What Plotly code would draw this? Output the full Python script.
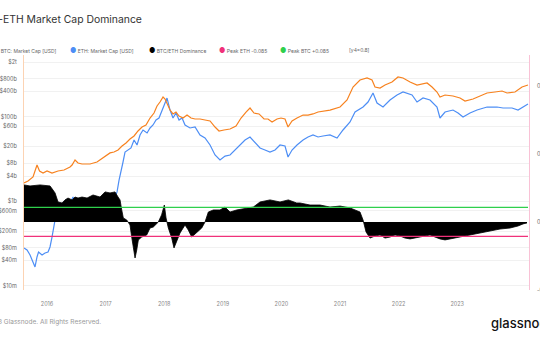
import plotly.graph_objects as go

# ---------------- data ----------------
# time expressed as decimal years
btc_year = [2015.607, 2015.676, 2015.761, 2015.829, 2015.872, 2015.932, 2016.000, 2016.085, 2016.188,
            2016.290, 2016.392, 2016.427, 2016.478, 2016.529, 2016.597, 2016.734, 2016.853, 2016.904,
            2016.956, 2017.024, 2017.075, 2017.143, 2017.212, 2017.280, 2017.348, 2017.416, 2017.485,
            2017.553, 2017.621, 2017.689, 2017.758, 2017.826, 2017.877, 2017.928, 2017.980, 2018.014,
            2018.048, 2018.099, 2018.150, 2018.201, 2018.253, 2018.321, 2018.389, 2018.457, 2018.526,
            2018.611, 2018.696, 2018.782, 2018.867, 2018.935, 2019.020, 2019.123, 2019.225, 2019.311,
            2019.396, 2019.464, 2019.532, 2019.618, 2019.703, 2019.771, 2019.840, 2019.925, 2019.993,
            2020.061, 2020.113, 2020.181, 2020.266, 2020.369, 2020.454, 2020.539, 2020.625, 2020.710,
            2020.829, 2021.000, 2021.120, 2021.222, 2021.341, 2021.461, 2021.546, 2021.597, 2021.683,
            2021.768, 2021.887, 2021.990, 2022.075, 2022.195, 2022.314, 2022.485, 2022.570, 2022.655,
            2022.706, 2022.792, 2022.928, 2023.048, 2023.133, 2023.270, 2023.355, 2023.509, 2023.645,
            2023.765, 2023.850, 2023.986, 2024.106, 2024.208]
btc_cap_b = [2.74, 3.05, 3.80, 7.30, 5.26, 4.72, 5.26, 4.72, 5.26,
             5.56, 6.55, 7.30, 9.59, 8.14, 7.71, 7.71, 8.60, 9.59,
             10.7, 12.6, 14.1, 14.8, 16.5, 20.6, 24.2, 30.1, 35.5,
             46.6, 57.9, 64.6, 94.6, 124, 182, 226, 297, 266,
             203, 146, 118, 131, 105, 94.6, 111, 94.6, 89.6,
             89.6, 84.9, 80.4, 57.9, 46.6, 49.2, 52.0, 61.2, 94.6,
             131, 163, 124, 118, 89.6, 89.6, 76.1, 89.6, 94.6,
             89.6, 57.9, 80.4, 94.6, 111, 111, 118, 131, 139,
             146, 172, 252, 513, 750, 837, 750, 513, 485,
             571, 673, 883, 837, 673, 571, 637, 513, 390,
             297, 331, 314, 281, 239, 266, 297, 370, 390,
             412, 370, 390, 513, 571]

eth_year = [2015.607, 2015.659, 2015.710, 2015.761, 2015.795, 2015.829, 2015.855, 2015.915, 2015.966,
            2016.017, 2016.051, 2016.085, 2016.111, 2016.137, 2016.171, 2016.205, 2016.256, 2016.324,
            2016.392, 2016.444, 2016.495, 2016.563, 2016.648, 2016.734, 2016.819, 2016.904, 2016.990,
            2017.075, 2017.143, 2017.195, 2017.229, 2017.263, 2017.297, 2017.331, 2017.382, 2017.433,
            2017.485, 2017.536, 2017.587, 2017.638, 2017.707, 2017.758, 2017.809, 2017.860, 2017.911,
            2017.962, 2018.014, 2018.048, 2018.099, 2018.150, 2018.201, 2018.253, 2018.304, 2018.355,
            2018.440, 2018.526, 2018.611, 2018.696, 2018.782, 2018.867, 2018.952, 2019.038, 2019.123,
            2019.208, 2019.294, 2019.379, 2019.464, 2019.550, 2019.635, 2019.720, 2019.805, 2019.891,
            2019.976, 2020.061, 2020.113, 2020.181, 2020.266, 2020.369, 2020.454, 2020.539, 2020.625,
            2020.710, 2020.829, 2020.949, 2021.051, 2021.171, 2021.256, 2021.393, 2021.478, 2021.563,
            2021.632, 2021.734, 2021.853, 2021.973, 2022.075, 2022.229, 2022.314, 2022.417, 2022.536,
            2022.655, 2022.706, 2022.792, 2022.928, 2023.014, 2023.099, 2023.218, 2023.338, 2023.509,
            2023.679, 2023.782, 2023.935, 2024.038, 2024.123, 2024.208]
eth_cap_b = [0.0793, 0.0711, 0.0542, 0.0370, 0.0282, 0.0486, 0.0638, 0.0542, 0.0604,
             0.0638, 0.0838, 0.144, 0.249, 0.365, 0.628, 0.92, 0.871, 1.08,
             0.92, 1.28, 0.740, 0.701, 0.782, 0.701, 0.97, 0.740, 0.701,
             0.782, 1.08, 1.68, 3.22, 4.99, 8.60, 14.8, 16.5, 18.5,
             28.5, 21.7, 37.5, 49.2, 41.8, 54.9, 64.6, 84.9, 94.6,
             146, 214, 281, 146, 94.6, 124, 84.9, 94.6, 64.6,
             54.9, 57.9, 37.5, 31.8, 21.7, 12.6, 9.59, 11.9, 12.6,
             16.5, 21.7, 28.5, 33.6, 24.2, 18.5, 16.5, 14.8, 16.5,
             21.7, 20.6, 11.3, 16.5, 21.7, 28.5, 33.6, 37.5, 33.6,
             35.5, 37.5, 31.8, 49.2, 76.1, 131, 172, 226, 370,
             214, 172, 252, 331, 390, 331, 226, 281, 252,
             172, 94.6, 131, 146, 124, 100, 124, 146, 172,
             172, 163, 163, 146, 172, 203]

dom_year = [2015.607, 2015.710, 2015.881, 2016.051, 2016.102, 2016.137, 2016.188, 2016.256, 2016.307,
            2016.358, 2016.427, 2016.478, 2016.529, 2016.597, 2016.683, 2016.785, 2016.904, 2016.990,
            2017.075, 2017.160, 2017.212, 2017.246, 2017.275, 2017.302, 2017.360, 2017.387, 2017.416,
            2017.445, 2017.473, 2017.502, 2017.531, 2017.558, 2017.616, 2017.701, 2017.758, 2017.814,
            2017.899, 2017.955, 2018.002, 2018.031, 2018.070, 2018.128, 2018.167, 2018.213, 2018.270,
            2018.355, 2018.411, 2018.469, 2018.555, 2018.640, 2018.696, 2018.753, 2018.838, 2018.952,
            2019.038, 2019.123, 2019.237, 2019.350, 2019.520, 2019.635, 2019.805, 2019.976, 2020.118,
            2020.261, 2020.317, 2020.488, 2020.659, 2020.829, 2021.000, 2021.171, 2021.273, 2021.341,
            2021.393, 2021.444, 2021.512, 2021.597, 2021.683, 2021.768, 2021.853, 2021.939, 2022.024,
            2022.109, 2022.195, 2022.280, 2022.365, 2022.451, 2022.536, 2022.621, 2022.706, 2022.792,
            2022.877, 2022.962, 2023.048, 2023.133, 2023.218, 2023.304, 2023.389, 2023.560, 2023.730,
            2023.901, 2024.038, 2024.123, 2024.191]
dom_val = [0.217, 0.211, 0.217, 0.211, 0.187, 0.170, 0.117, 0.111, 0.129,
           0.140, 0.129, 0.146, 0.140, 0.146, 0.140, 0.158, 0.146, 0.176,
           0.170, 0.176, 0.146, 0.129, 0.070, 0.023, 0.011, -0.006, -0.018,
           -0.089, -0.147, -0.212, -0.165, -0.106, -0.089, -0.077, -0.036, -0.030,
           -0.001, 0.041, 0.099, 0.023, -0.036, -0.095, -0.153, -0.118, -0.065,
           -0.018, -0.048, -0.089, -0.065, -0.036, -0.001, 0.058, 0.070, 0.070,
           0.087, 0.058, 0.070, 0.076, 0.087, 0.117, 0.129, 0.117, 0.129,
           0.111, 0.111, 0.099, 0.099, 0.087, 0.093, 0.082, 0.070, 0.058,
           0.011, -0.059, -0.095, -0.083, -0.077, -0.095, -0.089, -0.077, -0.083,
           -0.095, -0.100, -0.095, -0.089, -0.083, -0.077, -0.089, -0.100, -0.106,
           -0.100, -0.095, -0.089, -0.083, -0.077, -0.071, -0.065, -0.053, -0.042,
           -0.036, -0.024, -0.012, -0.006]

peak_eth = -0.085
peak_btc = 0.085

year_ticks = [2016, 2017, 2018, 2019, 2020, 2021, 2022, 2023]
year_labels = ["2016", "2017", "2018", "2019", "2020", "2021", "2022", "2023"]
cap_tickvals = [1e7, 4e7, 8e7, 2e8, 6e8, 1e9, 4e9, 8e9, 2e10, 6e10, 1e11, 4e11, 8e11, 2e12]
cap_ticktext = ["$10m", "$40m", "$80m", "$200m", "$600m", "$1b", "$4b", "$8b", "$20b", "$60b",
                "$100b", "$400b", "$800b", "$2t"]
dom_tickvals = [-0.4, 0, 0.4, 0.8]
dom_ticktext = ["-0.4", "0", "0.4", "0.8"]

# ---------------- styling ----------------
C_BTC = "#f7821f"
C_ETH = "#4d8ef5"
C_PINK = "#f0317a"
C_GREEN = "#2fd04c"
FONT = "Inter"

btc_usd = [v * 1e9 for v in btc_cap_b]
eth_usd = [v * 1e9 for v in eth_cap_b]
x_all = btc_year + eth_year + dom_year
x0, x1 = min(x_all), max(x_all)

fig = go.Figure()
fig.add_trace(go.Scatter(x=eth_year, y=eth_usd, mode="lines", name="ETH: Market Cap [USD]",
                         line=dict(color=C_ETH, width=1.2), yaxis="y"))
fig.add_trace(go.Scatter(x=btc_year, y=btc_usd, mode="lines", name="BTC: Market Cap [USD]",
                         line=dict(color=C_BTC, width=1.2), yaxis="y"))
fig.add_trace(go.Scatter(x=dom_year, y=dom_val, mode="lines", name="BTC/ETH Dominance",
                         line=dict(color="black", width=0.8), fill="tozeroy",
                         fillcolor="black", yaxis="y2"))
fig.add_trace(go.Scatter(x=[x0, x1], y=[peak_btc, peak_btc], mode="lines", name="Peak BTC +0.085",
                         line=dict(color=C_GREEN, width=1.2), yaxis="y2"))
fig.add_trace(go.Scatter(x=[x0, x1], y=[peak_eth, peak_eth], mode="lines", name="Peak ETH -0.085",
                         line=dict(color=C_PINK, width=1.2), yaxis="y2"))

L, R, T, B = 24, 11, 55, 50
W, H = 540, 340
PW, PH = W - L - R, H - T - B


def px(xp):
    return (xp - L) / PW


def py(yp):
    return (T + PH - yp) / PH


annotations = []
annotations.append(dict(text="BTC-ETH Market Cap Dominance", x=px(-24), y=py(20), xref="paper",
                        yref="paper", xanchor="left", yanchor="middle", showarrow=False,
                        font=dict(family=FONT, size=10.4, color="#333333")))

legend_items = [("BTC: Market Cap [USD]", C_BTC, -9), ("ETH: Market Cap [USD]", C_ETH, 68),
                ("BTC/ETH Dominance", "#000000", 147), ("Peak ETH -0.085", C_PINK, 217),
                ("Peak BTC +0.085", C_GREEN, 278)]
for label, col, xp in legend_items:
    annotations.append(dict(text=f"<span style='color:{col};font-size:7px'>●</span> {label}",
                            x=px(xp), y=py(50), xref="paper", yref="paper", xanchor="left",
                            yanchor="middle", showarrow=False,
                            font=dict(family=FONT, size=5, color="#666666")))
annotations.append(dict(text="[y4=0.8]", x=px(347), y=py(50), xref="paper", yref="paper",
                        xanchor="left", yanchor="middle", showarrow=False,
                        font=dict(family=FONT, size=5, color="#666666")))
annotations.append(dict(text="©2023 Glassnode. All Rights Reserved.", x=px(-22), y=py(322),
                        xref="paper", yref="paper", xanchor="left", yanchor="middle",
                        showarrow=False, font=dict(family=FONT, size=6.5, color="#999999")))
annotations.append(dict(text="glassnode", x=px(489), y=py(323), xref="paper", yref="paper",
                        xanchor="left", yanchor="middle", showarrow=False,
                        font=dict(family=FONT, size=13, color="#111111", weight=500)))

fig.update_layout(
    width=W, height=H,
    margin=dict(l=L, r=R, t=T, b=B, pad=0, autoexpand=False),
    paper_bgcolor="white", plot_bgcolor="white",
    showlegend=False,
    font=dict(family=FONT, size=5.5, color="#777777"),
    xaxis=dict(range=[2015.607, 2024.225], tickvals=year_ticks, ticktext=year_labels,
               showgrid=False, zeroline=False, showline=False, ticks="", automargin=False,
               ticklabelstandoff=9, tickfont=dict(size=5.5, color="#888888")),
    yaxis=dict(type="log", range=[6.905, 12.467], tickvals=cap_tickvals, ticktext=cap_ticktext,
               showgrid=True, gridcolor="#f1f1f1", gridwidth=1, zeroline=False, automargin=False,
               showline=True, linecolor="#fcd3b3", linewidth=1, ticks="",
               ticklabelstandoff=5, tickfont=dict(size=5.5, color="#666666")),
    yaxis2=dict(overlaying="y", side="right", range=[-0.4, 0.98], tickvals=dom_tickvals,
                ticktext=dom_ticktext, showgrid=False, zeroline=False, showline=True,
                automargin=False, linecolor="#f9c2d6", linewidth=1, ticks="",
                ticklabelstandoff=6, tickfont=dict(size=5.5, color="#666666")),
    annotations=annotations,
)

fig.write_html("out.html")
